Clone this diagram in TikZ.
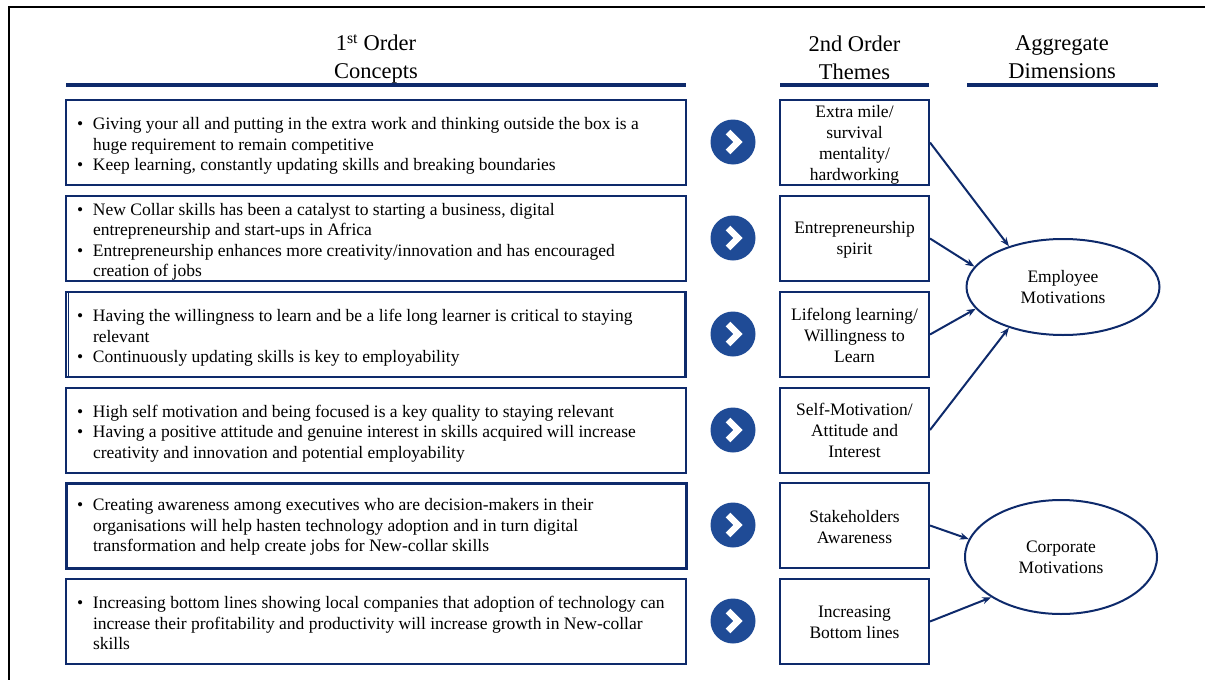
\documentclass[tikz,border=0pt]{standalone}
\usepackage{fontspec}
\setmainfont{Liberation Serif}
\usetikzlibrary{shapes.geometric,arrows.meta}
\definecolor{navy}{HTML}{0E2A6B}
\definecolor{chev}{HTML}{1F4B96}
\newcommand{\bl}[1]{\hangindent=16pt\hangafter=1\noindent\makebox[16pt][l]{\textbullet}#1\par}
\newcommand{\cbox}[2][7pt]{\parbox[c]{598pt}{\vspace*{#1}\fontsize{17.5}{20.5}\selectfont\raggedright #2}}
\newcommand{\tbox}[2][0pt]{\parbox[c]{145pt}{\vspace*{#1}\centering\fontsize{17.5}{21}\selectfont #2}}
\tikzset{
  conbox/.style={draw=navy, line width=2pt, minimum width=620pt, minimum height=85pt,
    inner xsep=11pt, inner ysep=0pt},
  thbox/.style={draw=navy, line width=2pt, minimum width=149pt, minimum height=85pt,
    inner xsep=2pt, inner ysep=0pt},
  dimell/.style={draw=navy, line width=2pt, ellipse, inner sep=0pt, align=center,
    font=\fontsize{17.5}{21}\selectfont},
  hdr/.style={align=center, font=\fontsize{22.5}{28}\selectfont},
  hline/.style={navy, line width=4pt},
  chevc/.style={circle, fill=chev, minimum size=45pt, inner sep=0pt},
  chevm/.style={white, line width=6.5pt, line join=miter},
  link/.style={navy, line width=2pt, -{Stealth[length=9pt,width=7pt]}},
}
\begin{document}
\begin{tikzpicture}[x=1pt,y=-1pt]
\useasboundingbox (0,0) rectangle (1205,680);
% outer frame
\draw[line width=2pt] (8.5,680) -- (8.5,6.5) -- (1205,6.5);
% headers
\node[hdr] (h1) at (376,59) {1\textsuperscript{st} Order\\Concepts};
\node[hdr] (h2) at (854.5,57.5) {2nd Order\\Themes};
\node[hdr] (h3) at (1062,57.5) {Aggregate\\Dimensions};
\coordinate (u1a) at (66,85); \coordinate (u1b) at (686,85);
\coordinate (u2a) at (780,85); \coordinate (u2b) at (929,85);
\coordinate (u3a) at (967,85); \coordinate (u3b) at (1158,85);
\draw[hline] (u1a) -- (u1b);
\draw[hline] (u2a) -- (u2b);
\draw[hline] (u3a) -- (u3b);
% first order concept boxes
\node[conbox] (l1) at (376,142.5) {\cbox{\bl{Giving your all and putting in the extra work and thinking outside the box is a\newline huge requirement to remain competitive}\bl{Keep learning, constantly updating skills and breaking boundaries}}};
\node[conbox] (l2) at (376,238.5) {\cbox{\bl{New Collar skills has been a catalyst to starting a business, digital\newline entrepreneurship and start-ups in Africa}\bl{Entrepreneurship enhances more creativity/innovation and has encouraged\newline creation of jobs}}};
\node[conbox] (l3) at (376,334.5) {\cbox{\bl{Having the willingness to learn and be a life long learner is critical to staying\newline relevant}\bl{Continuously updating skills is key to employability}}};
\draw[navy, line width=1pt] ([xshift=3pt]l3.north west) -- ([xshift=3pt]l3.south west);
\draw[navy, line width=1pt] ([xshift=-3pt]l3.north east) -- ([xshift=-3pt]l3.south east);
\node[conbox] (l4) at (376,430) {\cbox{\bl{High self motivation and being focused is a key quality to staying relevant}\bl{Having a positive attitude and genuine interest in skills acquired will increase\newline creativity and innovation and potential employability}}};
\node[conbox, line width=3pt] (l5) at (376,525.5) {\cbox[3pt]{\bl{Creating awareness among executives who are decision-makers in their\newline organisations will help hasten technology adoption and in turn digital\newline transformation and help create jobs for New-collar skills}}};
\node[conbox] (l6) at (376,621.5) {\cbox[3pt]{\bl{Increasing bottom lines showing local companies that adoption of technology can\newline increase their profitability and productivity will increase growth in New-collar\newline skills}}};
% chevrons
\foreach \i/\y in {1/142,2/238,3/334,4/430,5/525,6/621}{
  \node[chevc] (c\i) at (733,\y) {};
  \draw[chevm] ([shift={(-5,-10)}]c\i.center) -- ([shift={(5,0)}]c\i.center) -- ([shift={(-5,10)}]c\i.center);
}
% second order theme boxes
\node[thbox] (m1) at (854.5,142.5) {\tbox[4pt]{Extra mile/\\survival\\mentality/\\hardworking}};
\node[thbox] (m2) at (854.5,238.5) {\tbox[3pt]{Entrepreneurship\\spirit}};
\node[thbox] (m3) at (854.5,334.5) {\tbox[1pt]{Lifelong learning/\\Willingness to\\Learn}};
\node[thbox] (m4) at (854.5,430) {\tbox[1pt]{Self-Motivation/\\Attitude and\\Interest}};
\node[thbox] (m5) at (854.5,525.5) {\tbox[3pt]{Stakeholders\\Awareness}};
\node[thbox] (m6) at (854.5,621.5) {\tbox[2pt]{Increasing\\Bottom lines}};
% aggregate dimensions
\node[dimell, minimum width=193pt, minimum height=96pt] (emp) at (1063,287) {Employee\\Motivations};
\node[dimell, minimum width=192pt, minimum height=114pt] (corp) at (1061,557) {Corporate\\Motivations};
% links
\draw[link] (m1.east) -- (emp.143);
\draw[link] (m2.east) -- (emp.167);
\draw[link] (m3.east) -- (emp.194);
\draw[link] (m4.east) -- (emp.217);
\draw[link] (m5.east) -- (corp.169);
\draw[link] (m6.east) -- (corp.210);
\end{tikzpicture}
\end{document}
